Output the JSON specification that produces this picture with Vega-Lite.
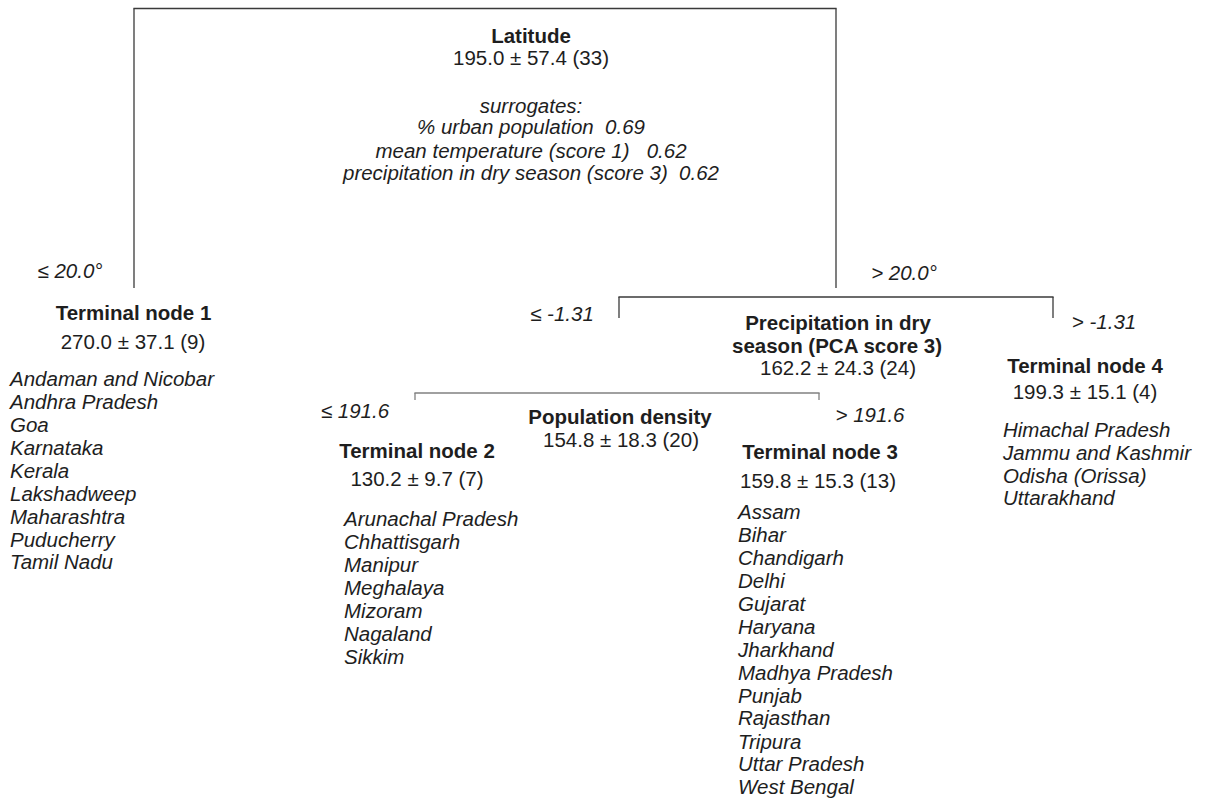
{
  "$schema": "https://vega.github.io/schema/vega-lite/v6.json",
  "width": 1205,
  "height": 799,
  "padding": 0,
  "autosize": {"type": "none"},
  "background": "white",
  "config": {"view": {"stroke": null}, "text": {"font": "Liberation Sans", "fontSize": 20.5, "color": "#1e1e1e"}},
  "datasets": {
    "segments": [
      {"split": "Latitude", "xa": 134, "ya": 288, "xb": 134, "yb": 8.5},
      {"split": "Latitude", "xa": 133.4, "ya": 8.5, "xb": 836.6, "yb": 8.5},
      {"split": "Latitude", "xa": 836, "ya": 8.5, "xb": 836, "yb": 288},
      {"split": "Precipitation", "xa": 619, "ya": 318, "xb": 619, "yb": 297},
      {"split": "Precipitation", "xa": 618.4, "ya": 297, "xb": 1053.6, "yb": 297},
      {"split": "Precipitation", "xa": 1053, "ya": 297, "xb": 1053, "yb": 318},
      {"split": "Population density", "xa": 415, "ya": 400, "xb": 415, "yb": 393},
      {"split": "Population density", "xa": 414.4, "ya": 393, "xb": 819.6, "yb": 393},
      {"split": "Population density", "xa": 819, "ya": 393, "xb": 819, "yb": 400}
    ],
    "titles": [
      {"label": "Latitude", "x": 531, "y": 37},
      {"label": "Precipitation in dry", "x": 838, "y": 324},
      {"label": "season (PCA score 3)", "x": 837, "y": 347},
      {"label": "Population density", "x": 620, "y": 418},
      {"label": "Terminal node 1", "x": 133.5, "y": 314},
      {"label": "Terminal node 2", "x": 417, "y": 452},
      {"label": "Terminal node 3", "x": 820, "y": 453},
      {"label": "Terminal node 4", "x": 1085, "y": 367}
    ],
    "values": [
      {"label": "195.0 ± 57.4 (33)", "x": 531, "y": 59},
      {"label": "270.0 ± 37.1 (9)", "x": 133, "y": 343},
      {"label": "162.2 ± 24.3 (24)", "x": 838, "y": 369},
      {"label": "154.8 ± 18.3 (20)", "x": 621, "y": 441},
      {"label": "130.2 ± 9.7 (7)", "x": 417, "y": 480},
      {"label": "159.8 ± 15.3 (13)", "x": 818, "y": 482},
      {"label": "199.3 ± 15.1 (4)", "x": 1085, "y": 393}
    ],
    "surrogates": [
      {"label": "surrogates:", "x": 531, "y": 107},
      {"label": "% urban population\u00a0 0.69", "x": 531, "y": 128},
      {"label": "mean temperature (score 1)\u00a0\u00a0 0.62", "x": 531, "y": 152},
      {"label": "precipitation in dry season (score 3)\u00a0 0.62", "x": 531, "y": 174}
    ],
    "splits": [
      {"label": "≤ 20.0°", "x": 70, "y": 272},
      {"label": "> 20.0°", "x": 904, "y": 274},
      {"label": "≤ -1.31", "x": 562, "y": 315},
      {"label": "> -1.31", "x": 1104, "y": 323},
      {"label": "≤ 191.6", "x": 355, "y": 412},
      {"label": "> 191.6", "x": 870, "y": 416}
    ],
    "states": [
      {"node": 1, "label": "Andaman and Nicobar", "x": 10, "y": 380},
      {"node": 1, "label": "Andhra Pradesh", "x": 10, "y": 403},
      {"node": 1, "label": "Goa", "x": 10, "y": 426},
      {"node": 1, "label": "Karnataka", "x": 10, "y": 449},
      {"node": 1, "label": "Kerala", "x": 10, "y": 472},
      {"node": 1, "label": "Lakshadweep", "x": 10, "y": 495},
      {"node": 1, "label": "Maharashtra", "x": 10, "y": 518},
      {"node": 1, "label": "Puducherry", "x": 10, "y": 541},
      {"node": 1, "label": "Tamil Nadu", "x": 10, "y": 563},
      {"node": 2, "label": "Arunachal Pradesh", "x": 344, "y": 520},
      {"node": 2, "label": "Chhattisgarh", "x": 344, "y": 543},
      {"node": 2, "label": "Manipur", "x": 344, "y": 566},
      {"node": 2, "label": "Meghalaya", "x": 344, "y": 589},
      {"node": 2, "label": "Mizoram", "x": 344, "y": 612},
      {"node": 2, "label": "Nagaland", "x": 344, "y": 635},
      {"node": 2, "label": "Sikkim", "x": 344, "y": 658},
      {"node": 3, "label": "Assam", "x": 738, "y": 513},
      {"node": 3, "label": "Bihar", "x": 738, "y": 536},
      {"node": 3, "label": "Chandigarh", "x": 738, "y": 559},
      {"node": 3, "label": "Delhi", "x": 738, "y": 582},
      {"node": 3, "label": "Gujarat", "x": 738, "y": 605},
      {"node": 3, "label": "Haryana", "x": 738, "y": 628},
      {"node": 3, "label": "Jharkhand", "x": 738, "y": 651},
      {"node": 3, "label": "Madhya Pradesh", "x": 738, "y": 674},
      {"node": 3, "label": "Punjab", "x": 738, "y": 697},
      {"node": 3, "label": "Rajasthan", "x": 738, "y": 719},
      {"node": 3, "label": "Tripura", "x": 738, "y": 743},
      {"node": 3, "label": "Uttar Pradesh", "x": 738, "y": 765},
      {"node": 3, "label": "West Bengal", "x": 738, "y": 788},
      {"node": 4, "label": "Himachal Pradesh", "x": 1003, "y": 431},
      {"node": 4, "label": "Jammu and Kashmir", "x": 1003, "y": 454},
      {"node": 4, "label": "Odisha (Orissa)", "x": 1003, "y": 477},
      {"node": 4, "label": "Uttarakhand", "x": 1003, "y": 499}
    ]
  },
  "layer": [
    {
      "data": {"name": "segments"},
      "mark": {"type": "rule", "strokeWidth": 1.3},
      "encoding": {
        "x": {"field": "xa", "type": "quantitative", "scale": {"domain": [0, 1205], "nice": false, "zero": false}, "axis": null},
        "y": {"field": "ya", "type": "quantitative", "scale": {"domain": [0, 799], "nice": false, "zero": false, "reverse": true}, "axis": null},
        "x2": {"field": "xb"},
        "y2": {"field": "yb"},
        "color": {"field": "split", "type": "nominal", "scale": {"domain": ["Latitude", "Precipitation", "Population density"], "range": ["#3a3a3a", "#3a3a3a", "#808080"]}, "legend": null}
      }
    },
    {
      "data": {"name": "titles"},
      "mark": {"type": "text", "fontWeight": "bold", "align": "center", "baseline": "middle"},
      "encoding": {
        "x": {"field": "x", "type": "quantitative"},
        "y": {"field": "y", "type": "quantitative"},
        "text": {"field": "label"}
      }
    },
    {
      "data": {"name": "values"},
      "mark": {"type": "text", "align": "center", "baseline": "middle"},
      "encoding": {
        "x": {"field": "x", "type": "quantitative"},
        "y": {"field": "y", "type": "quantitative"},
        "text": {"field": "label"}
      }
    },
    {
      "data": {"name": "surrogates"},
      "mark": {"type": "text", "fontStyle": "italic", "align": "center", "baseline": "middle"},
      "encoding": {
        "x": {"field": "x", "type": "quantitative"},
        "y": {"field": "y", "type": "quantitative"},
        "text": {"field": "label"}
      }
    },
    {
      "data": {"name": "splits"},
      "mark": {"type": "text", "fontStyle": "italic", "align": "center", "baseline": "middle"},
      "encoding": {
        "x": {"field": "x", "type": "quantitative"},
        "y": {"field": "y", "type": "quantitative"},
        "text": {"field": "label"}
      }
    },
    {
      "data": {"name": "states"},
      "mark": {"type": "text", "fontStyle": "italic", "align": "left", "baseline": "middle"},
      "encoding": {
        "x": {"field": "x", "type": "quantitative"},
        "y": {"field": "y", "type": "quantitative"},
        "text": {"field": "label"}
      }
    }
  ]
}
